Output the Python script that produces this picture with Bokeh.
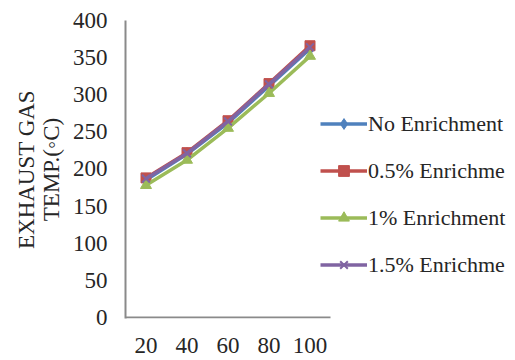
from bokeh.plotting import figure
from bokeh.models import Legend, LegendItem, Range1d, FixedTicker, Label
from bokeh.embed import file_html
from bokeh.resources import INLINE

loads = ["20", "40", "60", "80", "100"]
no_enrichment = [185, 220, 262, 312, 362]
enrich_05 = [188, 222, 265, 315, 366]
enrich_1 = [178, 212, 255, 302, 352]
enrich_15 = [187, 221, 264, 314, 364]
y_ticks = [0, 50, 100, 150, 200, 250, 300, 350, 400]

TXT = "#262626"
AXIS_COL = "#8a8a8a"

n = len(loads)
xs = list(range(1, n + 1))
cat_px = 41.0
frame_w = 515 - 125

p = figure(width=515, height=360,
           x_range=Range1d(0.5, 0.5 + frame_w / cat_px),
           y_range=Range1d(-1.4, 400), output_backend="svg", toolbar_location=None,
           min_border_left=125, min_border_right=0, min_border_top=20,
           min_border_bottom=42)
p.outline_line_color = None
p.xgrid.visible = False
p.ygrid.visible = False

p.xaxis.major_label_text_font = "Liberation Serif"
p.yaxis.major_label_text_font = "Times New Roman"
for ax in (p.xaxis[0], p.yaxis[0]):
    ax.major_tick_line_color = None
    ax.minor_tick_line_color = None
    ax.major_label_text_font_size = "23px"
    ax.major_label_text_color = TXT

p.yaxis.axis_line_color = AXIS_COL
p.yaxis.axis_line_width = 2
p.xaxis.axis_line_color = None
p.xaxis.ticker = FixedTicker(ticks=xs)
p.xaxis.major_label_overrides = {x: lab for x, lab in zip(xs, loads)}
p.yaxis.ticker = FixedTicker(ticks=y_ticks)
p.yaxis.major_label_standoff = 12
p.xaxis.major_label_standoff = 13

p.yaxis.axis_label = "EXHAUST GAS\nTEMP.(◦C)"
p.yaxis.axis_label_text_font = "Tinos"
p.yaxis.axis_label_text_font_size = "23px"
p.yaxis.axis_label_text_font_style = "normal"
p.yaxis.axis_label_text_color = TXT
p.yaxis.axis_label_text_align = "center"
p.yaxis.axis_label_text_line_height = 1.0
p.yaxis.axis_label_standoff = 6

p.line([0.5, n + 0.5], [0, 0], line_color=AXIS_COL, line_width=2)

series = [
    ("No Enrichment", no_enrichment, "#4F81BD", "diamond", 13),
    ("0.5% Enrichme", enrich_05, "#C0504D", "square", 10),
    ("1% Enrichment", enrich_1, "#9BBB59", "triangle", 11),
    ("1.5% Enrichme", enrich_15, "#8064A2", "x", 11),
]

items = []
for name, vals, col, mk, sz in series:
    r1 = p.line(xs, vals, line_color=col, line_width=3.5)
    r2 = p.scatter(xs, vals, marker=mk, size=sz, fill_color=col,
                   line_color=col, line_width=2 if mk == "x" else 1)
    items.append(LegendItem(label=name, renderers=[r1, r2]))

legend = Legend(items=items, location=(195, 40), orientation="vertical",
                glyph_width=47, glyph_height=27, label_height=27,
                label_standoff=1, spacing=20, padding=0, margin=0,
                border_line_color=None, background_fill_alpha=0,
                label_text_font="Liberation Serif", label_text_font_size="22px",
                label_text_color=TXT)
p.add_layout(legend, "center")

open("out.html", "w").write(file_html(p, INLINE))
